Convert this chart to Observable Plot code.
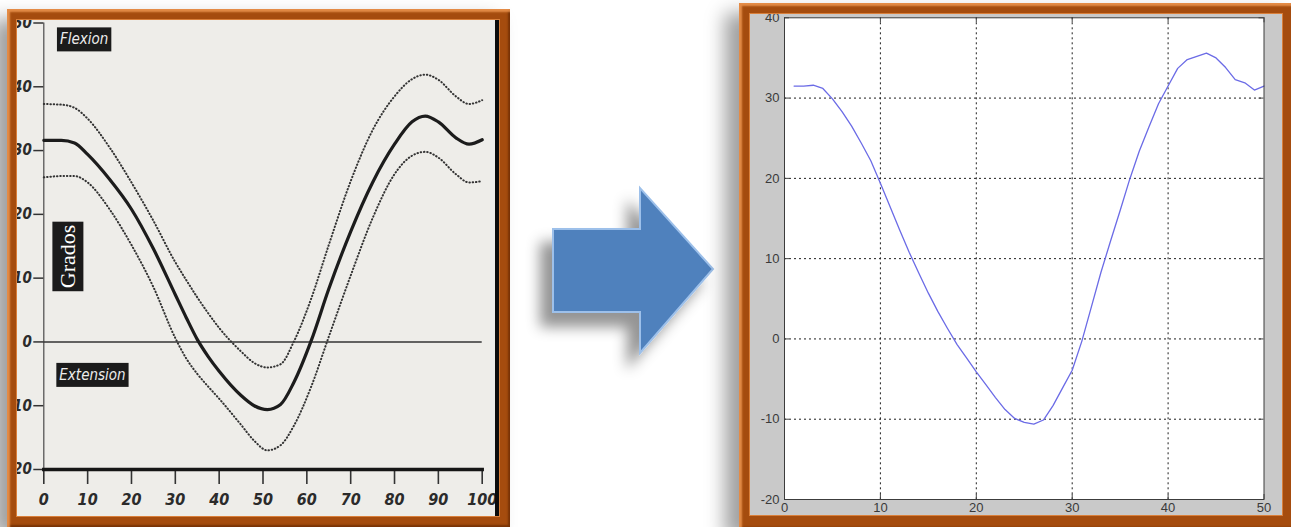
<!DOCTYPE html>
<html>
<head>
<meta charset="utf-8">
<script src="https://cdn.jsdelivr.net/npm/d3@7"></script>
<script src="https://cdn.jsdelivr.net/npm/@observablehq/plot@0.6"></script>
<style>
  html, body { margin: 0; padding: 0; background: #fff; }
  body { width: 1291px; height: 527px; overflow: hidden; position: relative; }
  .frame {
    position: absolute; box-sizing: border-box; background: #a54c0e;
    box-shadow: -14px 10px 18px rgba(0,0,0,0.38),
                inset 3px 3px 2px rgba(238,150,80,0.85),
                inset -2px -2px 2px rgba(90,35,0,0.6);
  }
  .inner { position: absolute; overflow: hidden; box-shadow: 0 0 0 1px rgba(230,140,70,0.8); }
  #left { left: 7px; top: 9px; width: 503px; height: 518px; }
  #leftInner { left: 10px; top: 11px; width: 482px; height: 496px; background: #0c0c0c; }
  #paper { position: absolute; left: 0; top: 0; width: 478px; height: 496px; background: #eeede9; overflow: hidden; }
  #right { left: 739px; top: 3px; width: 556px; height: 526px; }
  #rightInner { left: 11px; top: 11px; width: 532px; height: 501px; background: #c9c9c9; }
  #arrow { position: absolute; left: 0; top: 0; }
  .plot-host svg { display: block; }
  #paper g[aria-label$="tick label"] text { font-style: italic; font-weight: bold; }
</style>
</head>
<body>
<svg id="arrow" width="1291" height="527">
  <defs>
    <filter id="arrowShadow" x="-40%" y="-40%" width="180%" height="190%">
      <feDropShadow dx="-12" dy="14" stdDeviation="7" flood-color="#000" flood-opacity="0.42"/>
    </filter>
  </defs>
  <polygon points="553,229 640,229 640,188 713,269 640,353 640,312 553,312"
           fill="#4f81bd" stroke="#9dc0ea" stroke-width="2" stroke-linejoin="miter" filter="url(#arrowShadow)"/>
</svg>

<div id="left" class="frame">
  <div id="leftInner" class="inner"><div id="paper" class="plot-host"></div></div>
</div>
<div id="right" class="frame">
  <div id="rightInner" class="inner plot-host"></div>
</div>

<script>
// ---- Knee flexion/extension reference band (percent of gait cycle) ----
const cyclePct   = [0, 4, 7, 10, 15, 20, 25, 30, 32.5, 35, 37.5, 40, 45, 48, 51, 54, 57, 61, 65, 70, 75, 80, 84, 87, 90, 94, 97, 100];
const meanAngle  = [31.6, 31.6, 31.2, 29.4, 25.5, 20.8, 14.6, 7.4, 3.8, 0.4, -2.3, -4.6, -8.4, -10.0, -10.6, -9.8, -6.4, 0.2, 8.3, 17.3, 25.0, 31.0, 34.5, 35.4, 34.5, 32.0, 31.0, 31.7];
const upperAngle = [37.3, 37.2, 36.7, 35.0, 30.5, 25.0, 19.0, 12.5, 9.7, 7.0, 4.5, 2.2, -1.5, -3.3, -4.0, -3.5, 0.0, 6.8, 15.2, 25.2, 33.2, 38.5, 41.2, 41.9, 41.1, 38.5, 37.3, 37.9];
const lowerAngle = [25.8, 26.0, 26.0, 25.0, 20.8, 15.2, 8.6, 0.6, -2.6, -5.0, -7.0, -8.9, -13.0, -15.5, -17.0, -16.2, -13.2, -7.0, 0.8, 10.4, 19.4, 26.3, 29.2, 29.8, 28.9, 26.3, 25.0, 25.2];
const leftXTicks = [0, 10, 20, 30, 40, 50, 60, 70, 80, 90, 100];
const leftYTicks = [-20, -10, 0, 10, 20, 30, 40, 50];
const tagText    = ["Flexion", "Extension"];
const tagX       = [9.2, 11.1];
const tagY       = [47.4, -5.2];
const yTitle     = ["Grados"];
const yTitleX    = [5.6];
const yTitleY    = [13.4];

// ---- Measured knee angle (sample index) ----
const sampleIdx  = [1, 2, 3, 4, 5, 6, 7, 8, 9, 10, 11, 12, 13, 14, 15, 16, 17, 18, 19, 20, 21, 22, 23, 24, 25,
                    26, 27, 28, 29, 30, 31, 32, 33, 34, 35, 36, 37, 38, 39, 40, 41, 42, 43, 44, 45, 46, 47, 48, 49, 50];
const kneeAngle  = [31.5, 31.5, 31.6, 31.2, 29.9, 28.3, 26.5, 24.4, 22.2, 19.4, 16.5, 13.6, 10.8, 8.2, 5.7, 3.4, 1.3, -0.7, -2.4, -4.1,
                    -5.7, -7.3, -8.8, -9.9, -10.4, -10.6, -10.1, -8.3, -6.1, -3.9, -0.3, 4.0, 8.3, 12.2, 16.0, 19.9, 23.4, 26.4, 29.3, 31.5,
                    33.7, 34.8, 35.2, 35.6, 35.0, 33.8, 32.3, 31.9, 31.0, 31.5];
const rightXTicks = [0, 10, 20, 30, 40, 50];
const rightYTicks = [-20, -10, 0, 10, 20, 30, 40];
const rightXGrid  = [10, 20, 30, 40];
const rightYGrid  = [-10, 0, 10, 20, 30];

const narrow = "'Liberation Sans Narrow', 'DejaVu Sans Condensed', 'Arial Narrow', sans-serif";

const bandRows = cyclePct.map((x, i) => ({x, mean: meanAngle[i], upper: upperAngle[i], lower: lowerAngle[i]}));
const tagRows = tagText.map((t, i) => ({t, x: tagX[i], y: tagY[i]}));
const titleRows = yTitle.map((t, i) => ({t, x: yTitleX[i], y: yTitleY[i]}));

// left panel layout (px)
const L = {width: 478, height: 496, top: 2.5, right: 13.3, bottom: 47, left: 26.3};
const LW = L.width - L.left - L.right, LH = L.height - L.top - L.bottom;

const leftPlot = Plot.plot({
  width: L.width, height: L.height,
  marginLeft: L.left, marginRight: L.right, marginTop: L.top, marginBottom: L.bottom,
  x: {domain: [0, 100], label: null},
  y: {domain: [-20, 50], label: null},
  style: {background: "transparent", fontFamily: narrow, fontSize: "14px", color: "#2b2b2b", overflow: "visible"},
  marks: [
    Plot.frame({anchor: "left", stroke: "#4a4a4a", strokeWidth: 1.2}),
    Plot.ruleY([0], {stroke: "#333", strokeWidth: 1.5}),
    // outward tick marks: 10px left of the y axis, 15px below the baseline
    Plot.ruleY(leftYTicks, {insetLeft: -10, insetRight: LW, stroke: "#333", strokeWidth: 1.5}),
    Plot.ruleX(leftXTicks, {insetTop: LH, insetBottom: -15, stroke: "#333", strokeWidth: 1.6}),
    Plot.axisY({ticks: leftYTicks, tickSize: 0, tickPadding: 12, tickFormat: d => String(d), label: null, fontSize: 15}),
    Plot.axisX({ticks: leftXTicks, tickSize: 0, tickPadding: 24, tickFormat: d => String(d), label: null, fontSize: 16}),
    Plot.frame({anchor: "bottom", stroke: "#161616", strokeWidth: 3.5}),
    Plot.line(bandRows, {x: "x", y: "upper", curve: "monotone-x", stroke: "#333", strokeWidth: 2,
                         strokeDasharray: "0.5,2.8", strokeLinecap: "round"}),
    Plot.line(bandRows, {x: "x", y: "lower", curve: "monotone-x", stroke: "#333", strokeWidth: 2,
                         strokeDasharray: "0.5,2.8", strokeLinecap: "round"}),
    Plot.line(bandRows, {x: "x", y: "mean", curve: "monotone-x", stroke: "#1c1c1c", strokeWidth: 3.2}),
    Plot.text(tagRows, {x: "x", y: "y", text: "t", fill: "#ececec", fontFamily: narrow, fontSize: 15,
                        fontStyle: "italic", fontWeight: "normal"}),
    Plot.text(titleRows, {x: "x", y: "y", text: "t", fill: "#ffffff", rotate: -90,
                          fontFamily: "'Liberation Serif', 'Times New Roman', serif", fontSize: 22,
                          fontStyle: "normal", fontWeight: "normal"})
  ]
});
document.getElementById("paper").appendChild(leftPlot);

// dark boxes behind the Flexion / Extension / Grados tags
leftPlot.querySelectorAll('g[aria-label="text"] text').forEach(t => {
  const b = t.getBBox();
  const px = 3, py = 3;
  const r = document.createElementNS("http://www.w3.org/2000/svg", "rect");
  r.setAttribute("x", b.x - px);
  r.setAttribute("y", b.y - py);
  r.setAttribute("width", b.width + 2 * px);
  r.setAttribute("height", b.height + 2 * py);
  r.setAttribute("fill", "#1b1b1b");
  if (t.getAttribute("transform")) r.setAttribute("transform", t.getAttribute("transform"));
  t.parentNode.insertBefore(r, t);
});

const kneeRows = sampleIdx.map((x, i) => ({x, y: kneeAngle[i]}));

// right panel layout (px)
const R = {width: 532, height: 501, top: 3.3, right: 18.5, bottom: 16, left: 34};
const RW = R.width - R.left - R.right, RH = R.height - R.top - R.bottom;
const tickLen = 5;
const tickInk = {stroke: "#444", strokeWidth: 1};

const rightPlot = Plot.plot({
  width: R.width, height: R.height,
  marginLeft: R.left, marginRight: R.right, marginTop: R.top, marginBottom: R.bottom,
  x: {domain: [0, 50], label: null},
  y: {domain: [-20, 40], label: null},
  style: {background: "transparent", fontFamily: "'Liberation Sans', Arial, sans-serif", fontSize: "13px", color: "#3a3a3a"},
  marks: [
    Plot.frame({fill: "#ffffff"}),
    Plot.ruleX(rightXGrid, {stroke: "#1e1e1e", strokeWidth: 1, strokeDasharray: "2,3"}),
    Plot.ruleY(rightYGrid, {stroke: "#1e1e1e", strokeWidth: 1, strokeDasharray: "2,3"}),
    // short inward ticks on all four sides of the box
    Plot.ruleX(rightXTicks, {insetTop: RH - tickLen, ...tickInk}),
    Plot.ruleX(rightXTicks, {insetBottom: RH - tickLen, ...tickInk}),
    Plot.ruleY(rightYTicks, {insetRight: RW - tickLen, ...tickInk}),
    Plot.ruleY(rightYTicks, {insetLeft: RW - tickLen, ...tickInk}),
    Plot.axisY({anchor: "left", ticks: rightYTicks, tickSize: 0, tickPadding: 5, tickFormat: d => String(d), label: null, fontSize: 13}),
    Plot.axisX({anchor: "bottom", ticks: rightXTicks, tickSize: 0, tickPadding: 3, tickFormat: d => String(d), label: null, fontSize: 13}),
    Plot.line(kneeRows, {x: "x", y: "y", stroke: "#6b6be6", strokeWidth: 1.3}),
    Plot.frame({stroke: "#3c3c3c", strokeWidth: 1})
  ]
});
document.getElementById("rightInner").appendChild(rightPlot);
</script>
</body>
</html>
